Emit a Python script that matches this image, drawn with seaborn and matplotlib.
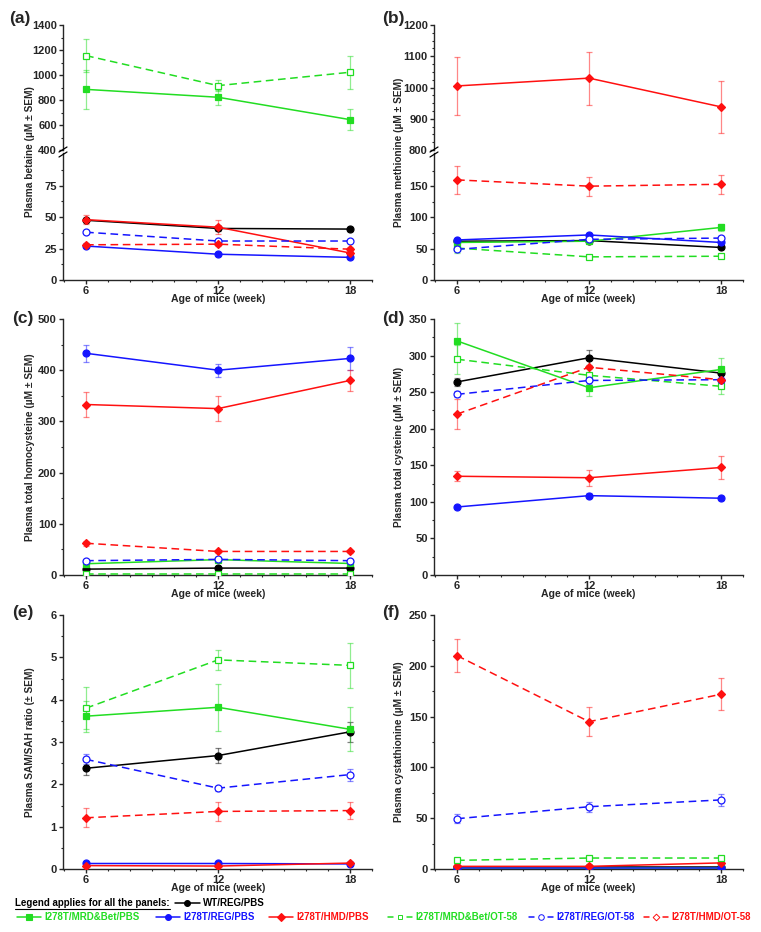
import matplotlib
matplotlib.use("Agg")
import numpy as np
import pandas as pd
import matplotlib.pyplot as plt
import seaborn as sns
from matplotlib.lines import Line2D
from matplotlib.ticker import MultipleLocator, FixedLocator
from matplotlib import font_manager as fm

# ---------------- data ----------------
weeks = [6, 12, 18]
groups = ["WT/REG/PBS", "I278T/MRD&Bet/PBS", "I278T/REG/PBS", "I278T/HMD/PBS",
          "I278T/MRD&Bet/OT-58", "I278T/REG/OT-58", "I278T/HMD/OT-58"]

betaine_mean = [[47.5, 41, 40.5], [885, 822, 643], [27, 20.5, 18], [48, 42, 21.5],
                [1155, 915, 1022], [38, 31, 31], [28, 28.5, 24.5]]
betaine_sem = [[1.5, 2, 1.5], [155, 60, 83], [1, 1, 1], [3.5, 5.5, 1.5],
               [130, 45, 133], [1, 1, 1], [1.5, 1.5, 1.5]]

methionine_mean = [[62, 63, 52], [60, 62, 84], [64, 72, 60], [1005, 1030, 938],
                   [51, 37, 38], [49, 65, 67], [160, 150, 153]]
methionine_sem = [[2, 2, 2], [3, 3, 6], [2, 3, 3], [93, 85, 82],
                  [8, 2, 2], [3, 3, 3], [23, 15, 15]]

homocysteine_mean = [[11.5, 13.5, 13.5], [22, 30, 22.5], [433, 400, 423], [333, 325, 380],
                     [2, 2, 2], [28, 30.5, 28], [62, 46, 46]]
homocysteine_sem = [[1, 1, 1], [2, 3, 2], [17, 13, 22], [25, 24, 20],
                    [0.5, 0.5, 0.5], [2, 3, 2], [5, 3, 3]]

cysteine_mean = [[264, 297, 276], [320, 256, 281], [93, 108.5, 105], [135, 133, 147],
                 [295, 273, 258], [247, 266, 267], [220, 284, 267]]
cysteine_sem = [[5, 10, 8], [25, 11, 15], [2, 3, 3], [7, 11, 16],
                [20, 8, 10], [4, 5, 3], [20, 10, 10]]

samsah_mean = [[2.38, 2.68, 3.24], [3.61, 3.82, 3.30], [0.13, 0.13, 0.12], [0.08, 0.07, 0.14],
               [3.80, 4.94, 4.81], [2.59, 1.91, 2.23], [1.21, 1.36, 1.38]]
samsah_sem = [[0.17, 0.18, 0.23], [0.37, 0.55, 0.52], [0.01, 0.01, 0.01], [0.01, 0.01, 0.01],
              [0.50, 0.23, 0.53], [0.12, 0.06, 0.14], [0.22, 0.23, 0.20]]

cystathionine_mean = [[1.5, 1.5, 1.5], [1.0, 1.0, 1.0], [1.0, 1.0, 1.0], [2.6, 2.6, 6.0],
                      [8.5, 10.8, 10.8], [49.5, 61.3, 68], [210, 145, 172]]
cystathionine_sem = [[0.3, 0.3, 0.3], [0.2, 0.2, 0.2], [0.2, 0.2, 0.2], [0.5, 0.5, 1.0],
                     [1, 1, 1], [4.5, 5, 6], [16, 14.5, 15.5]]

# ---------------- style ----------------
GREEN, BLUE, RED, BLACK = "#22DD22", "#1515FF", "#FF1010", "#000000"
colors = [BLACK, GREEN, BLUE, RED, GREEN, BLUE, RED]
lstyles = ["-", "-", "-", "-", (0, (5, 3)), (0, (5, 3)), (0, (5, 3))]
markers = ["o", "s", "o", "D", "s", "o", "D"]
filled = [True, True, True, True, False, False, True]
msizes = [5, 4.6, 5, 4.4, 4.6, 5, 4.4]

sns.set_style("ticks")
names = {f.name for f in fm.fontManager.ttflist}
base = "Liberation Sans" if "Liberation Sans" in names else "DejaVu Sans"
plt.rcParams["font.family"] = [base, "DejaVu Sans"]
plt.rcParams["font.weight"] = "bold"
plt.rcParams["axes.linewidth"] = 1.0

W, H = 761, 932
fig = plt.figure(figsize=(W / 100, H / 100), dpi=100)


def fx(px):
    return px / W


def fy(py):
    return 1 - py / H


def add_ax(x0, x1, ytop, ybot):
    return fig.add_axes([fx(x0), fy(ybot), fx(x1) - fx(x0), fy(ytop) - fy(ybot)])


def style_ax(ax, ylim, major, minor, xaxis=True):
    ax.set_xlim(4.95, 19)
    ax.set_ylim(*ylim)
    ax.spines["top"].set_visible(False)
    ax.spines["right"].set_visible(False)
    ax.yaxis.set_major_locator(major)
    ax.yaxis.set_minor_locator(minor)
    ax.tick_params(axis="y", which="major", direction="out", length=3, width=1,
                   labelsize=8, pad=1.5)
    ax.tick_params(axis="y", which="minor", direction="out", length=1.6, width=0.8)
    for lab in ax.get_yticklabels():
        lab.set_fontweight("bold")
    if xaxis:
        ax.xaxis.set_major_locator(FixedLocator(weeks))
        ax.xaxis.set_minor_locator(MultipleLocator(1))
        ax.tick_params(axis="x", which="major", direction="out", length=3, width=1,
                       labelsize=8, pad=1)
        ax.tick_params(axis="x", which="minor", direction="out", length=1.6, width=0.8)
        for lab in ax.get_xticklabels():
            lab.set_fontweight("bold")
    else:
        ax.spines["bottom"].set_visible(False)
        ax.tick_params(axis="x", which="both", bottom=False, labelbottom=False)
    ax.set_xlabel("")
    ax.set_ylabel("")
    ax.patch.set_alpha(0)


def draw(ax, means, sems):
    for i, g in enumerate(groups):
        c = colors[i]
        ax.errorbar(weeks, means[i], yerr=sems[i], fmt="none", ecolor=c, alpha=0.5,
                    elinewidth=0.9, capsize=2.2, capthick=0.9, zorder=2)
        df = pd.DataFrame({"week": weeks, "value": means[i]})
        sns.lineplot(data=df, x="week", y="value", ax=ax, color=c, linestyle=lstyles[i],
                     linewidth=1.1, marker=markers[i], markersize=msizes[i],
                     markerfacecolor=c if filled[i] else "white", markeredgecolor=c,
                     markeredgewidth=0.9, legend=False, zorder=3, clip_on=True)


def labels(ytext, ycenter, xlab_x, xlab_y, ylab_x, panel, panel_xy):
    fig.text(fx(ylab_x), fy(ycenter), ytext, rotation=90, ha="center", va="center",
             fontsize=7.3, fontweight="bold")
    fig.text(fx(xlab_x), fy(xlab_y), "Age of mice (week)", ha="center", va="center",
             fontsize=7.6, fontweight="bold")
    fig.text(fx(panel_xy[0]), fy(panel_xy[1]), panel, ha="left", va="center",
             fontsize=12.5, fontweight="bold")


def break_marks(x, y):
    for dy in (-2.5, 2.5):
        fig.add_artist(Line2D([fx(x - 4), fx(x + 4)], [fy(y + dy + 2.5), fy(y + dy - 2.5)],
                              color="black", lw=0.9))


LX0, LX1 = 63, 372
RX0, RX1 = 434, 743

# (a) betaine - broken axis
a_low = add_ax(LX0, LX1, 153, 280)
a_up = add_ax(LX0, LX1, 25, 150)
draw(a_low, betaine_mean, betaine_sem)
draw(a_up, betaine_mean, betaine_sem)
style_ax(a_low, (0, 101), FixedLocator([0, 25, 50, 75]), FixedLocator([12.5, 37.5, 62.5, 87.5]))
style_ax(a_up, (400, 1400), MultipleLocator(200), MultipleLocator(100), xaxis=False)
break_marks(LX0, 152)
labels("Plasma betaine (\u00b5M \u00b1 SEM)", 152, 218, 299, 30, "(a)", (9, 19))

# (b) methionine - broken axis
b_low = add_ax(RX0, RX1, 153, 280)
b_up = add_ax(RX0, RX1, 25, 150)
draw(b_low, methionine_mean, methionine_sem)
draw(b_up, methionine_mean, methionine_sem)
style_ax(b_low, (0, 203), FixedLocator([0, 50, 100, 150]), FixedLocator([25, 75, 125, 175]))
style_ax(b_up, (800, 1200), MultipleLocator(100), MultipleLocator(25), xaxis=False)
break_marks(RX0, 152)
labels("Plasma methionine (\u00b5M \u00b1 SEM)", 152, 588, 299, 399, "(b)", (382, 19))

# (c) homocysteine
c_ax = add_ax(LX0, LX1, 319, 575)
draw(c_ax, homocysteine_mean, homocysteine_sem)
style_ax(c_ax, (0, 500), MultipleLocator(100), MultipleLocator(50))
labels("Plasma total homocysteine (\u00b5M \u00b1 SEM)", 447, 218, 594, 30, "(c)", (12, 318))

# (d) cysteine
d_ax = add_ax(RX0, RX1, 319, 575)
draw(d_ax, cysteine_mean, cysteine_sem)
style_ax(d_ax, (0, 350), MultipleLocator(50), MultipleLocator(25))
labels("Plasma total cysteine (\u00b5M \u00b1 SEM)", 447, 588, 594, 399, "(d)", (382, 318))

# (e) SAM/SAH ratio
e_ax = add_ax(LX0, LX1, 615, 869)
draw(e_ax, samsah_mean, samsah_sem)
style_ax(e_ax, (0, 6), MultipleLocator(1), MultipleLocator(0.5))
labels("Plasma SAM/SAH ratio (\u00b1 SEM)", 742, 218, 888, 30, "(e)", (12, 612))

# (f) cystathionine
f_ax = add_ax(RX0, RX1, 615, 869)
draw(f_ax, cystathionine_mean, cystathionine_sem)
style_ax(f_ax, (0, 250), MultipleLocator(50), MultipleLocator(25))
labels("Plasma cystathionine (\u00b5M \u00b1 SEM)", 742, 588, 888, 399, "(f)", (382, 612))

# ---------------- legend ----------------
fig.canvas.draw()
renderer = fig.canvas.get_renderer()
LEG_FS = 7.0


def put_text(x0, y, s, color):
    t = fig.text(fx(x0), fy(y), s, color=color, fontsize=LEG_FS, fontweight="bold",
                 va="center", ha="left")
    return x0 + t.get_window_extent(renderer).width


def handle(x0, x1, y, i):
    if i >= 4:
        fig.add_artist(Line2D([fx(x0), fx(x0 + 5)], [fy(y), fy(y)], color=colors[i], lw=1.1))
        fig.add_artist(Line2D([fx(x1 - 5), fx(x1)], [fy(y), fy(y)], color=colors[i], lw=1.1))
        fig.add_artist(Line2D([fx((x0 + x1) / 2)], [fy(y)], color=colors[i], marker=markers[i],
                              markersize=msizes[i] - 1.0, markerfacecolor="white",
                              markeredgecolor=colors[i], markeredgewidth=0.7, linestyle="none"))
    else:
        fig.add_artist(Line2D([fx(x0), fx(x1)], [fy(y), fy(y)], color=colors[i], lw=1.1))
        fig.add_artist(Line2D([fx((x0 + x1) / 2)], [fy(y)], color=colors[i], marker=markers[i],
                              markersize=msizes[i] - 0.8, markerfacecolor=colors[i],
                              markeredgecolor=colors[i], markeredgewidth=0.8, linestyle="none"))


end = put_text(15, 903, "Legend applies for all the panels:", "black")
fig.add_artist(Line2D([fx(15), fx(end)], [fy(909), fy(909)], color="black", lw=0.8))
h0 = max(173, end + 5)
handle(h0, h0 + 25, 903, 0)
put_text(h0 + 28, 903, groups[0], colors[0])

row2_starts = [17, 156, 269, 388, 529, 644]
prev_end = 0
for k, hs in enumerate(row2_starts):
    i = k + 1
    hs = max(hs, prev_end + 7)
    handle(hs, hs + 24, 917, i)
    prev_end = put_text(hs + 27, 917, groups[i], colors[i])

fig.savefig("out.png", dpi=100)
